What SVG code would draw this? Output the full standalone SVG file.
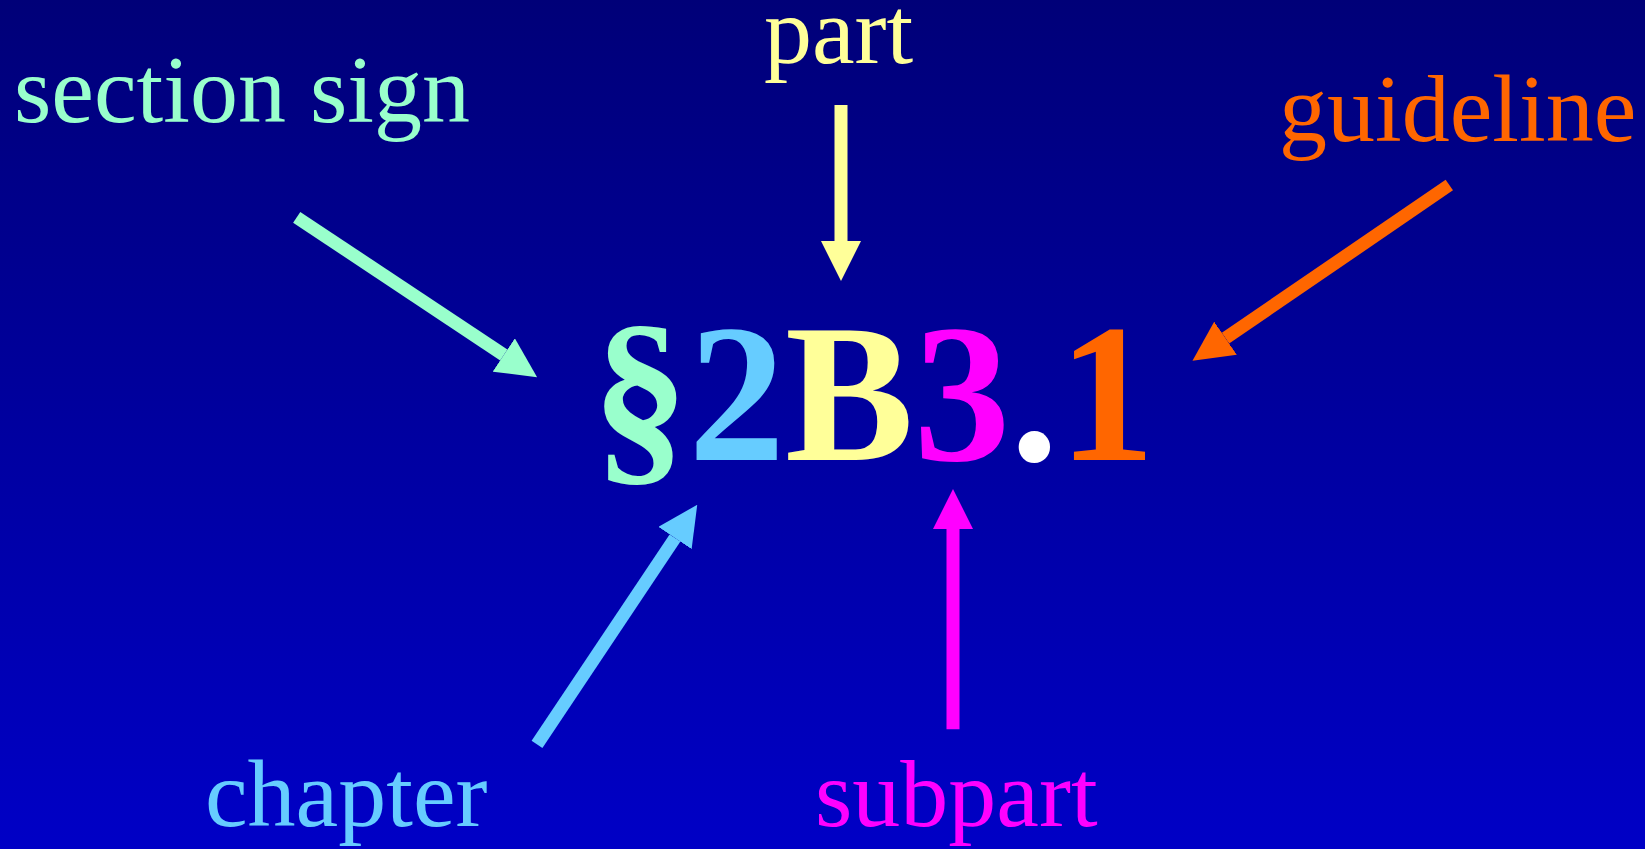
<svg xmlns="http://www.w3.org/2000/svg" width="1645" height="849" viewBox="0 0 1645 849">
<defs>
<linearGradient id="bg" x1="0" y1="0" x2="0" y2="1">
<stop offset="0" stop-color="#000078"/>
<stop offset="1" stop-color="#0000c6"/>
</linearGradient>
<marker id="h-mint" markerUnits="userSpaceOnUse" markerWidth="40" markerHeight="40" refX="0" refY="20" orient="auto" viewBox="0 0 40 40"><path d="M0,0 L40,20 L0,40 z" fill="#99ffcc"/></marker>
<marker id="h-yellow" markerUnits="userSpaceOnUse" markerWidth="40" markerHeight="40" refX="0" refY="20" orient="auto" viewBox="0 0 40 40"><path d="M0,0 L40,20 L0,40 z" fill="#ffff99"/></marker>
<marker id="h-orange" markerUnits="userSpaceOnUse" markerWidth="40" markerHeight="40" refX="0" refY="20" orient="auto" viewBox="0 0 40 40"><path d="M0,0 L40,20 L0,40 z" fill="#ff6600"/></marker>
<marker id="h-blue" markerUnits="userSpaceOnUse" markerWidth="40" markerHeight="40" refX="0" refY="20" orient="auto" viewBox="0 0 40 40"><path d="M0,0 L40,20 L0,40 z" fill="#66ccff"/></marker>
<marker id="h-pink" markerUnits="userSpaceOnUse" markerWidth="40" markerHeight="40" refX="0" refY="20" orient="auto" viewBox="0 0 40 40"><path d="M0,0 L40,20 L0,40 z" fill="#ff00ff"/></marker>
</defs>
<style>
.lbl{font-family:"Liberation Serif","Times New Roman",serif;font-size:96px}
.main{font-family:"Liberation Serif","Times New Roman",serif;font-size:196px;font-weight:bold}
.c{fill:none;stroke-width:13;stroke-linecap:butt}
</style>
<rect x="0" y="0" width="1645" height="849" fill="url(#bg)"/>
<g id="connectors">
<line class="c" x1="296.7" y1="217.3" x2="503.8" y2="355" stroke="#99ffcc" marker-end="url(#h-mint)"/>
<line class="c" x1="841" y1="105" x2="841" y2="241" stroke="#ffff99" marker-end="url(#h-yellow)"/>
<line class="c" x1="1449.3" y1="185" x2="1225.5" y2="338.2" stroke="#ff6600" marker-end="url(#h-orange)"/>
<line class="c" x1="537" y1="744.3" x2="675" y2="538" stroke="#66ccff" marker-end="url(#h-blue)"/>
<line class="c" x1="953" y1="729.3" x2="953" y2="529" stroke="#ff00ff" marker-end="url(#h-pink)"/>
</g>
<g id="section-sign"><text class="lbl" x="14" y="122" fill="#99ffcc">section sign</text></g>
<g id="part"><text class="lbl" x="764" y="63" fill="#ffff99">part</text></g>
<g id="guideline"><text class="lbl" x="1279" y="141" fill="#ff6600">guideline</text></g>
<g id="chapter"><text class="lbl" x="205" y="826" fill="#66ccff">chapter</text></g>
<g id="subpart"><text class="lbl" x="815" y="826" fill="#ff00ff">subpart</text></g>
<g id="code">
<text class="main" transform="translate(592,460) scale(0.985,1)"><tspan fill="#99ffcc">§</tspan><tspan fill="#66ccff">2</tspan><tspan fill="#ffff99">B</tspan><tspan fill="#ff00ff">3</tspan><tspan fill="#ffffff">.</tspan><tspan fill="#ff6600">1</tspan></text>
</g>
</svg>
